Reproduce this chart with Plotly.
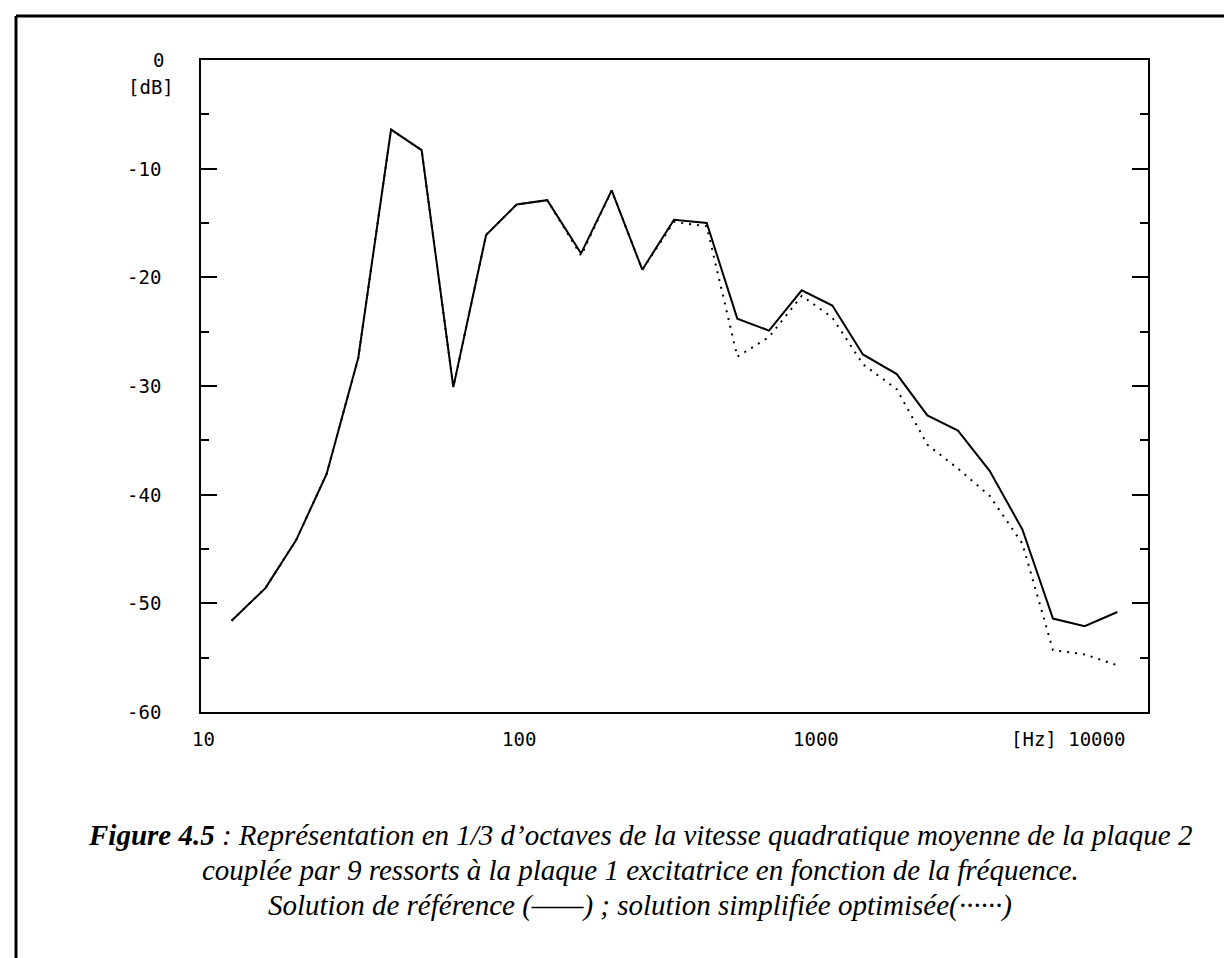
import math
import plotly.graph_objects as go

# 1/3-octave centre frequencies (Hz)
freqs = [12.5, 16, 20, 25, 31.5, 40, 50, 63, 80, 100, 125, 160, 200, 250, 315,
         400, 500, 630, 800, 1000, 1250, 1600, 2000, 2500, 3150, 4000, 5000,
         6300, 8000]

# Reference solution (solid)
ref_db = [-51.6, -48.6, -44.2, -38.1, -27.4, -6.4, -8.3, -30.1, -16.1, -13.3,
          -12.9, -17.8, -12.0, -19.3, -14.7, -15.0, -23.8, -24.9, -21.2, -22.6,
          -27.1, -28.9, -32.7, -34.1, -37.8, -43.2, -51.4, -52.1, -50.8]

# Optimised simplified solution (dotted)
opt_db = [-51.6, -48.6, -44.2, -38.1, -27.4, -6.4, -8.3, -30.1, -16.1, -13.3,
          -12.9, -18.0, -12.0, -19.3, -14.9, -15.3, -27.3, -25.5, -21.7, -23.7,
          -28.0, -30.3, -35.4, -37.6, -40.1, -44.5, -54.3, -54.7, -55.7]

y_ticks = [-60, -50, -40, -30, -20, -10]
y_tick_text = ["-60", "-50", "-40", "-30", "-20", "-10"]
x_ticks = [10, 100, 1000, 10000]
x_tick_text = ["10", "100", "1000", "[Hz] 10000"]
x_label_shift = [2, 2, -16, -80]

caption_lines = [
    "<b><i>Figure 4.5</i></b><i> : Représentation en 1/3 d’octaves de la vitesse "
    "quadratique moyenne de la plaque 2</i>",
    "<i>couplée par 9 ressorts à la plaque 1 excitatrice en fonction de la fréquence.</i>",
    "<i>Solution de référence (——) ; solution simplifiée optimisée(······)</i>",
]
caption_y = [827, 862, 897]

W, H = 1232, 958
L, R, T, B = 193, 92, 52, 254
pw, ph = W - L - R, H - T - B

def px(xp):
    return (xp - L) / pw

def py(yp):
    return (H - B - yp) / ph

fig = go.Figure()
fig.add_trace(go.Scatter(x=freqs, y=opt_db, mode="lines",
                         line=dict(color="black", width=2, dash="2px,6px"),
                         name="optimisée"))
fig.add_trace(go.Scatter(x=freqs, y=ref_db, mode="lines",
                         line=dict(color="black", width=2),
                         name="référence"))

tick_font = dict(family="DejaVu Sans Mono", size=19, color="black")
ann = []
for v, t in zip(y_ticks, y_tick_text):
    ann.append(dict(x=px(155), y=v, xref="paper", yref="y", text=t,
                    showarrow=False, xanchor="right", yanchor="middle", font=tick_font))
ann.append(dict(x=px(150), y=0, xref="paper", yref="y", text="0",
                showarrow=False, xanchor="center", yanchor="middle", font=tick_font))
ann.append(dict(x=px(143), y=0, xref="paper", yref="y", text="[dB]", yshift=-27,
                showarrow=False, xanchor="center", yanchor="middle", font=tick_font))
for v, t, s in zip(x_ticks, x_tick_text, x_label_shift):
    ann.append(dict(x=math.log10(v), y=py(731), xref="x", yref="paper", text=t, xshift=s,
                    showarrow=False, xanchor="center", yanchor="middle", font=tick_font))
for t, yy in zip(caption_lines, caption_y):
    ann.append(dict(x=px(632), y=py(yy), xref="paper", yref="paper", text=t,
                    showarrow=False, xanchor="center", yanchor="middle", align="center",
                    font=dict(family="Liberation Serif", size=29, color="black")))

shapes = [
    dict(type="line", xref="paper", yref="paper", x0=px(8), x1=px(1240),
         y0=py(8), y1=py(8), line=dict(color="black", width=3)),
    dict(type="line", xref="paper", yref="paper", x0=px(8), x1=px(8),
         y0=py(8), y1=py(970), line=dict(color="black", width=3)),
]

fig.update_layout(
    width=W, height=H,
    margin=dict(l=L, r=R, t=T, b=B, pad=0),
    paper_bgcolor="white", plot_bgcolor="white",
    showlegend=False,
    annotations=ann, shapes=shapes,
    xaxis=dict(type="log", range=[1, 4], showgrid=False, zeroline=False,
               showline=True, linecolor="black", linewidth=2, mirror=True,
               ticks="", showticklabels=False),
    yaxis=dict(range=[-60, 0], showgrid=False, zeroline=False,
               showline=True, linecolor="black", linewidth=2, mirror="ticks",
               tickvals=y_ticks, ticks="inside", ticklen=16, tickwidth=2,
               tickcolor="black", showticklabels=False,
               minor=dict(dtick=5, tick0=0, ticks="inside", ticklen=8,
                          tickwidth=2, tickcolor="black", showgrid=False)),
)

fig.write_html("out.html")
